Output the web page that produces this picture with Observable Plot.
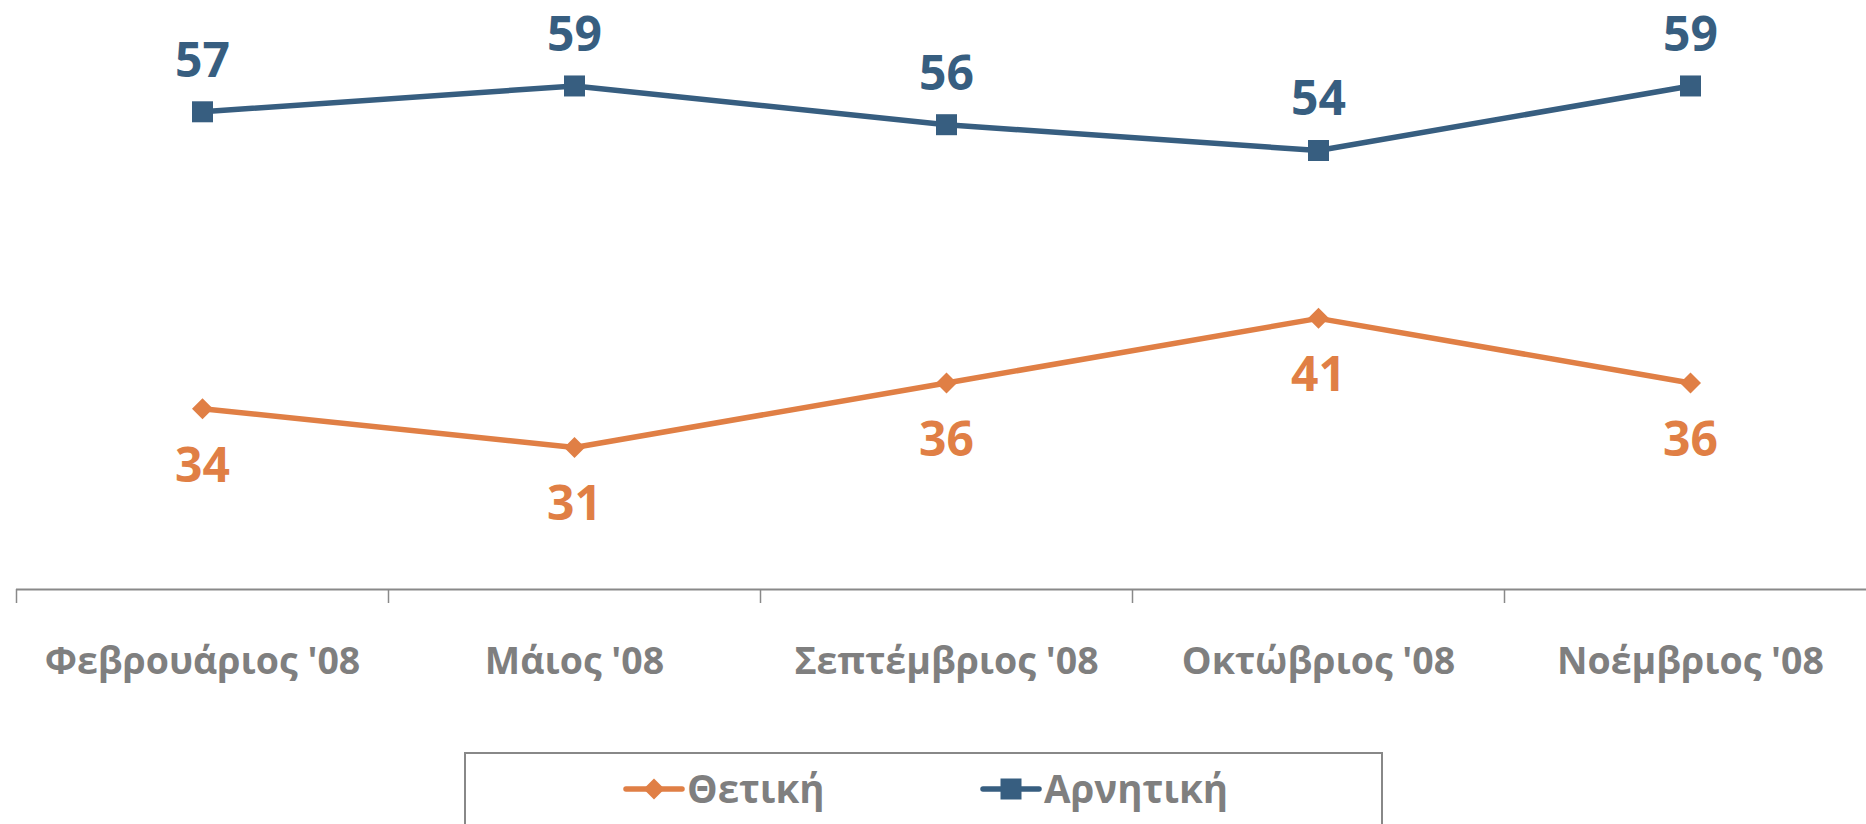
<!DOCTYPE html>
<html><head><meta charset="utf-8">
<script src="https://cdn.jsdelivr.net/npm/d3@7"></script>
<script src="https://cdn.jsdelivr.net/npm/@observablehq/plot@0.6"></script>
<style>
html,body{margin:0;padding:0;background:#fff;overflow:hidden;}
#wrap{position:relative;width:1866px;height:824px;overflow:hidden;}
#chart{position:absolute;left:0;top:0;}
#legend{position:absolute;left:464px;top:752px;width:919px;height:120px;border:2px solid #888;box-sizing:border-box;background:#fff;}
#legend svg{position:absolute;left:-2px;top:-2px;}
</style></head>
<body><div id="wrap"><div id="chart"></div><div id="legend"></div></div>
<script>
const categories = ["Φεβρουάριος '08", "Μάιος '08", "Σεπτέμβριος '08", "Οκτώβριος '08", "Νοέμβριος '08"];
const positive = [34, 31, 36, 41, 36];
const negative = [57, 59, 56, 54, 59];
const seriesNames = ["Θετική", "Αρνητική"];
const colors = ["#E07F45", "#375E80"];

const pos = categories.map((c, i) => ({i, c, v: positive[i]}));
const neg = categories.map((c, i) => ({i, c, v: negative[i]}));
const cx = d => d.i + 0.5;

const chart = Plot.plot({
  width: 1866, height: 740,
  marginTop: 8, marginBottom: 151, marginLeft: 16, marginRight: 0,
  style: {fontFamily: "'Open Sans', sans-serif", background: "white", overflow: "visible"},
  x: {type: "linear", domain: [0, categories.length], range: [16, 1876], axis: null, label: null},
  y: {domain: [20, 65], axis: null},
  marks: [
    Plot.ruleY([20], {stroke: "#898989", strokeWidth: 2}),
    Plot.axisX(d3.range(categories.length + 1), {anchor: "bottom", tickSize: 14, tickFormat: () => "",
      stroke: "#898989", strokeWidth: 1.5, label: null}),
    Plot.text(categories, {x: (d, i) => i + 0.5, frameAnchor: "bottom", dy: 72.5, text: d => d,
      fill: "#7f7f7f", fontSize: 37.5, fontWeight: 700, textAnchor: "middle", lineAnchor: "middle"}),
    Plot.line(pos, {x: cx, y: "v", stroke: colors[0], strokeWidth: 5.5}),
    Plot.dot(pos, {x: cx, y: "v", symbol: "diamond2", r: 9.46, fill: colors[0], stroke: "none"}),
    Plot.text(pos, {x: cx, y: "v", text: d => String(d.v), dy: 57.6, fill: colors[0], fontSize: 48, fontWeight: 700, lineAnchor: "middle"}),
    Plot.line(neg, {x: cx, y: "v", stroke: colors[1], strokeWidth: 5.5}),
    Plot.dot(neg, {x: cx, y: "v", symbol: "square", r: 11.85, fill: colors[1], stroke: "none"}),
    Plot.text(neg, {x: cx, y: "v", text: d => String(d.v), dy: -50.4, fill: colors[1], fontSize: 48, fontWeight: 700, lineAnchor: "middle"})
  ]
});
document.getElementById("chart").appendChild(chart);

// legend (below the chart)
const lg = d3.select("#legend").append("svg").attr("width", 919).attr("height", 120)
  .style("font-family", "'Open Sans', sans-serif");
const items = [
  {name: seriesNames[0], color: colors[0], sym: d3.symbolDiamond2, size: 281, x: 162, tx: 223},
  {name: seriesNames[1], color: colors[1], sym: d3.symbolSquare, size: 441, x: 519, tx: 580}
];
items.forEach(it => {
  const g = lg.append("g");
  g.append("line").attr("x1", it.x).attr("x2", it.x + 56).attr("y1", 37).attr("y2", 37)
    .attr("stroke", it.color).attr("stroke-width", 5.5).attr("stroke-linecap", "round");
  g.append("path").attr("d", d3.symbol(it.sym, it.size)()).attr("transform", `translate(${it.x + 28},37)`).attr("fill", it.color);
  g.append("text").attr("x", it.tx).attr("y", 51).text(it.name)
    .attr("fill", "#7f7f7f").attr("font-size", 38.5).attr("font-weight", 700);
});
</script>
</body></html>
